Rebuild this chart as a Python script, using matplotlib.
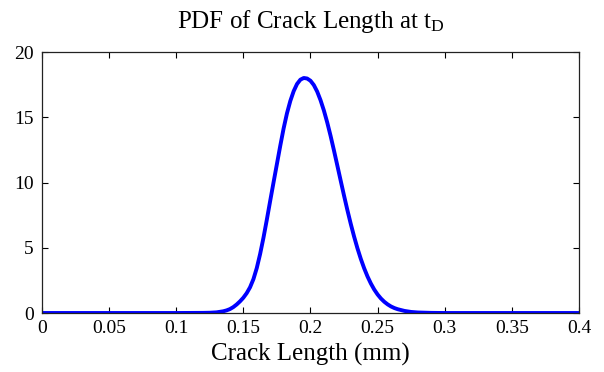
import matplotlib
matplotlib.use("Agg")
import matplotlib.pyplot as plt

# crack length (mm) and probability density along the curve
crack_mm = [0.000, 0.100, 0.120, 0.125, 0.130, 0.135, 0.1375,
            0.1400, 0.1425, 0.1450, 0.1475, 0.1500, 0.1525, 0.1550, 0.1575,
            0.1600, 0.1625, 0.1650, 0.1675, 0.1700, 0.1725, 0.1750, 0.1775,
            0.1800, 0.1825, 0.1850, 0.1875, 0.1900, 0.1925, 0.1950, 0.1975,
            0.2000, 0.2025, 0.2050, 0.2075, 0.2100, 0.2125, 0.2150, 0.2175,
            0.2200, 0.2225, 0.2250, 0.2275, 0.2300, 0.2325, 0.2350, 0.2375,
            0.2400, 0.2425, 0.2450, 0.2475, 0.2500, 0.2525, 0.2550, 0.2575,
            0.2600, 0.2625, 0.2650, 0.2700, 0.2750, 0.2800, 0.2900, 0.3000,
            0.400]
pdf_vals = [0.00, 0.00, 0.01, 0.02, 0.05, 0.13, 0.20,
            0.30, 0.45, 0.65, 0.89, 1.17, 1.52, 1.97, 2.59,
            3.44, 4.52, 5.77, 7.15, 8.59, 10.01, 11.41, 12.81,
            14.14, 15.30, 16.25, 17.00, 17.55, 17.88, 18.01, 17.97,
            17.80, 17.47, 16.97, 16.31, 15.52, 14.60, 13.57, 12.46,
            11.31, 10.15, 9.00, 7.89, 6.84, 5.86, 4.96, 4.15,
            3.43, 2.80, 2.26, 1.80, 1.42, 1.11, 0.86, 0.66,
            0.50, 0.38, 0.29, 0.16, 0.08, 0.04, 0.01, 0.00,
            0.00]

x_ticks = [0, 0.05, 0.1, 0.15, 0.2, 0.25, 0.3, 0.35, 0.4]
x_tick_labels = ["0", "0.05", "0.1", "0.15", "0.2", "0.25", "0.3", "0.35", "0.4"]
y_ticks = [0, 5, 10, 15, 20]

plt.rcParams["font.family"] = ["Liberation Serif", "DejaVu Serif"]
plt.rcParams["mathtext.fontset"] = "custom"
plt.rcParams["mathtext.rm"] = "Liberation Serif"
plt.rcParams["mathtext.it"] = "Liberation Serif"

fig = plt.figure(figsize=(6.04, 3.72), dpi=100)
ax = fig.add_axes([0.0695, 0.1586, 0.889, 0.7016])

ax.plot(crack_mm, pdf_vals, color="#0000ff", linewidth=2.8,
        solid_joinstyle="round")

ax.set_xlim(0, 0.4)
ax.set_ylim(0, 20)
ax.set_xticks(x_ticks)
ax.set_xticklabels(x_tick_labels)
ax.set_yticks(y_ticks)
ax.tick_params(direction="in", top=True, right=True, length=4, width=0.8,
               labelsize=14, colors="black")
ax.tick_params(axis="x", pad=5)
ax.tick_params(axis="y", pad=6)
for s in ax.spines.values():
    s.set_linewidth(0.9)
    s.set_color("#222222")

ax.set_xlabel("Crack Length (mm)", fontsize=18, labelpad=4)
ax.set_title(r"PDF of Crack Length at t$_{\mathrm{D}}$", fontsize=18, pad=17)

fig.savefig("out.png", dpi=100)
